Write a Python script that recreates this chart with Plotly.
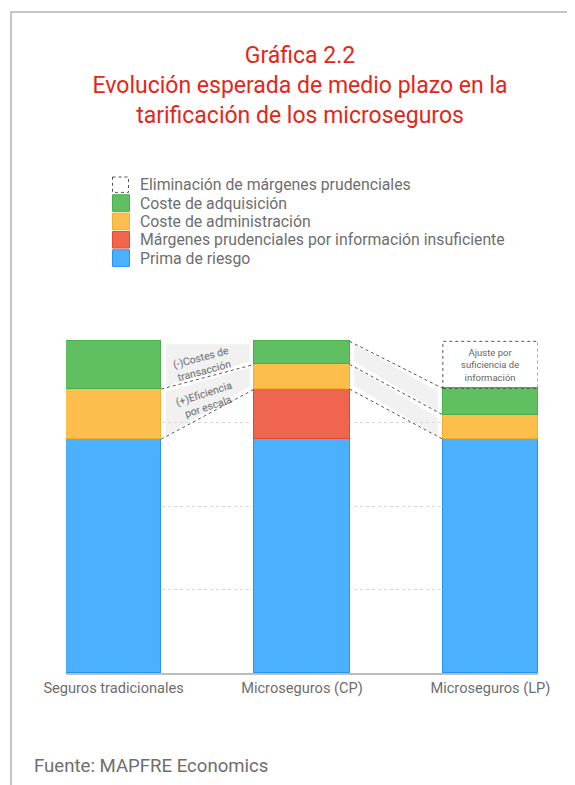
import plotly.graph_objects as go

# ---------------- data ----------------
categories = ["Seguros tradicionales", "Microseguros (CP)", "Microseguros (LP)"]
prima_riesgo = [70, 70, 70]
margenes_prudenciales = [0, 15, 0]
coste_administracion = [15, 7.4, 7.3]
coste_adquisicion = [14.3, 6.9, 7.9]
eliminacion_margenes = [0, 0, 14.1]

series_names = [
    "Prima de riesgo",
    "Márgenes prudenciales por información insuficiente",
    "Coste de administración",
    "Coste de adquisición",
    "Eliminación de márgenes prudenciales",
]
band_labels = ["(-)Costes de<br>transacción", "(+)Eficiencia<br>por escala"]
box_label = "Ajuste por<br>suficiencia de<br>información"
title_text = "Gráfica 2.2<br>Evolución esperada de medio plazo en la<br>tarificación de los microseguros"
source_text = "Fuente: MAPFRE Economics"

# ---------------- style ----------------
FONT = "Roboto"
fills = ["#4bb0fd", "#f0654e", "#fdbf4c", "#60bf61", "rgba(0,0,0,0)"]
edges = ["#2495f0", "#e8472d", "#f6ad2c", "#4aae4b", "rgba(0,0,0,0)"]
TXT = "#6e6e6e"
W = 0.505

# page offset (browser body margin) and plot-area geometry in page pixels
OFF = 8
L, R, T, B = 66 - OFF, 37, 339 - OFF, 112
FW, FH = 575 - OFF, 785 - OFF
PW, PH = FW - L - R, FH - T - B


def px(xp):  # page pixel -> paper x
    return (xp - OFF - L) / PW


def py(yp):  # page pixel -> paper y
    return (FH - B - (yp - OFF)) / PH


series = [prima_riesgo, margenes_prudenciales, coste_administracion,
          coste_adquisicion, eliminacion_margenes]

fig = go.Figure()
for name, vals, fc, ec in zip(series_names, series, fills, edges):
    fig.add_trace(go.Bar(
        x=categories, y=vals, name=name, width=W,
        marker=dict(color=fc, line=dict(color=ec, width=1)),
        showlegend=False, hoverinfo="name+y",
    ))

# cumulative levels
n = len(categories)
cum = []
for i in range(n):
    levels = [0]
    for s in series:
        levels.append(levels[-1] + s[i])
    cum.append(levels)

shapes = []
annotations = []

# connector bands between consecutive bars (admin and adquisicion segments)
for i in range(n - 1):
    xa = i + W / 2
    xb = i + 1 - W / 2
    dx = 0.025
    dy = 0.9
    for seg in (2, 3):
        bot_a, top_a = cum[i][seg], cum[i][seg + 1]
        bot_b, top_b = cum[i + 1][seg], cum[i + 1][seg + 1]
        path = (f"M {xa+dx},{bot_a+dy} L {xa+dx},{top_a-dy} "
                f"L {xb-dx},{top_b-dy} L {xb-dx},{bot_b+dy} Z")
        shapes.append(dict(type="path", path=path, xref="x", yref="y",
                           fillcolor="#f1f1f1", line=dict(width=0), layer="below"))
    for lvl in (2, 3, 4):
        ya, yb = cum[i][lvl], cum[i + 1][lvl]
        if abs(ya - yb) > 0.01:
            shapes.append(dict(type="line", x0=xa, x1=xb, y0=ya, y1=yb,
                               xref="x", yref="y",
                               line=dict(color="#555555", width=1, dash="dot")))

# dotted box for eliminated margins
for i in range(n):
    if eliminacion_margenes[i] > 0:
        shapes.append(dict(type="rect", x0=i - W / 2, x1=i + W / 2,
                           y0=cum[i][4], y1=cum[i][5], xref="x", yref="y",
                           line=dict(color="#555555", width=1, dash="dot"),
                           fillcolor="rgba(0,0,0,0)"))
        annotations.append(dict(x=i, y=(cum[i][4] + cum[i][5]) / 2, xref="x", yref="y",
                                text=box_label, showarrow=False,
                                font=dict(family=FONT, size=9.5, color="#666666")))

# band labels (between first two bars)
annotations.append(dict(x=0.47, y=(cum[0][4] + cum[0][3] + cum[1][4] + cum[1][3]) / 4 - 1.5,
                        xref="x", yref="y", text=band_labels[0], showarrow=False,
                        textangle=-15, font=dict(family=FONT, size=10.5, color="#6a6a6a")))
annotations.append(dict(x=0.49, y=(cum[0][3] + cum[0][2] + cum[1][3] + cum[1][2]) / 4 - 1.5,
                        xref="x", yref="y", text=band_labels[1], showarrow=False,
                        textangle=-18, font=dict(family=FONT, size=10.5, color="#6a6a6a")))

# manual legend (top item first)
legend_order = [4, 3, 2, 1, 0]
for k, si in enumerate(legend_order):
    cy = 184.7 + 18.35 * k
    if si == 4:
        shapes.append(dict(type="rect", xref="paper", yref="paper",
                           x0=px(112.5), x1=px(128.5), y0=py(cy - 7.7), y1=py(cy + 7.7),
                           line=dict(color="#555555", width=1, dash="dot"),
                           fillcolor="white"))
    else:
        shapes.append(dict(type="rect", xref="paper", yref="paper",
                           x0=px(112.5), x1=px(129.5), y0=py(cy - 8.3), y1=py(cy + 8.3),
                           line=dict(color=edges[si], width=1), fillcolor=fills[si]))
    annotations.append(dict(x=px(138), y=py(cy), xref="paper", yref="paper",
                            xanchor="left", yanchor="middle", showarrow=False,
                            text=series_names[si],
                            font=dict(family=FONT, size=15.8, color=TXT)))

# source
annotations.append(dict(x=px(32), y=py(766), xref="paper", yref="paper",
                        xanchor="left", yanchor="middle", showarrow=False,
                        text=source_text, font=dict(family=FONT, size=18.6, color=TXT)))

# frame
shapes.append(dict(type="path", xref="paper", yref="paper",
                   path=f"M {px(11)},{py(820)} L {px(11)},{py(12)} L {px(600)},{py(12)}",
                   line=dict(color="#b3b3b3", width=1.5)))

fig.update_layout(
    width=FW, height=FH,
    margin=dict(l=L, r=R, t=T, b=B, pad=0),
    paper_bgcolor="white", plot_bgcolor="white",
    barmode="stack", bargap=0,
    showlegend=False,
    title=dict(text=title_text, x=(300 - OFF) / FW, xanchor="center", xref="container",
               y=1 - (63 - OFF) / FH, yanchor="middle", yref="container",
               font=dict(family=FONT, size=23, color="#e42618")),
    xaxis=dict(range=[-W / 2, n - 1 + W / 2], showline=True, linecolor="#bdbdbd",
               linewidth=2, ticks="", showgrid=False,
               tickfont=dict(family=FONT, size=14.6, color=TXT)),
    yaxis=dict(range=[0, 100], dtick=25, showgrid=True, gridcolor="#d5d5d5",
               griddash="dot", gridwidth=1, zeroline=False, showticklabels=False,
               showline=False),
    shapes=shapes, annotations=annotations,
    font=dict(family=FONT),
)

fig.write_html("out.html")
